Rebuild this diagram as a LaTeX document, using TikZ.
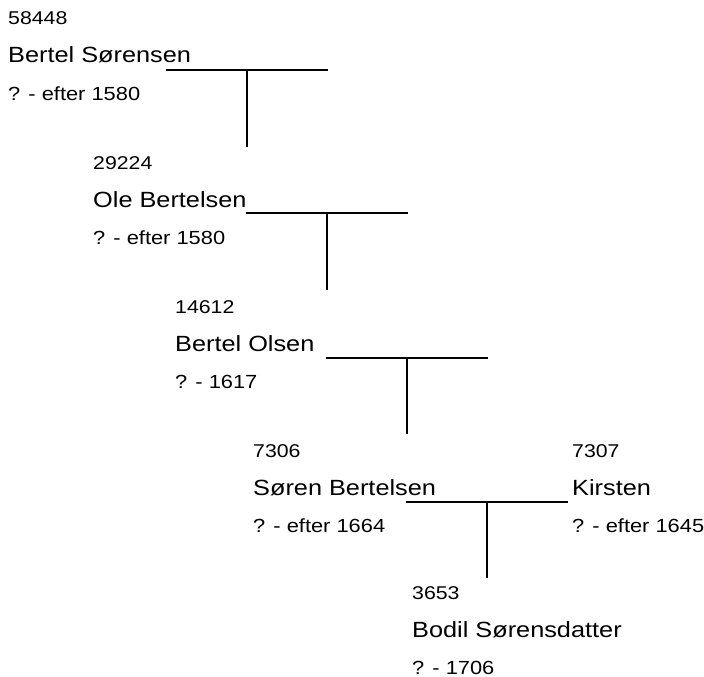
\documentclass[tikz,border=0pt]{standalone}
\usepackage{fontspec}
\setmainfont{Liberation Sans}[FakeStretch=1.15]
\usetikzlibrary{calc}

\begin{document}
\begin{tikzpicture}[
  x=1pt, y=-1pt,
  num/.style={anchor=base west, inner sep=0pt, font=\fontsize{18.5}{22}\selectfont},
  pname/.style={anchor=base west, inner sep=0pt, font=\fontsize{22}{26}\selectfont},
  life/.style={anchor=base west, inner sep=0pt, font=\fontsize{19}{22}\selectfont},
  tline/.style={draw=black, line width=2.4pt},
]
\useasboundingbox (0,0) rectangle (704,677);

% id, x, y of number baseline, number, name, dates
\newcommand{\person}[6]{%
  \node[num] (#1-num) at (#2,#3) {#4};
  \node[pname] (#1-name) at (#2,#3+38) {#5};
  \node[life] (#1-date) at (#2,#3+75) {#6};}

% ---- generations ----
\person{bertel}{8}{25}{58448}{Bertel Sørensen}{? - efter 1580}
\person{ole}{93}{169}{29224}{Ole Bertelsen}{? - efter 1580}
\person{bertelo}{175}{313}{14612}{Bertel Olsen}{? - 1617}
\person{soren}{253}{457}{7306}{Søren Bertelsen}{? - efter 1664}
\person{kirsten}{572}{457}{7307}{Kirsten}{? - efter 1645}
\person{bodil}{412}{599}{3653}{Bodil Sørensdatter}{? - 1706}

% ---- couple lines (left, right, foot of drop) ----
\coordinate (cpa l) at (166,70);  \coordinate (cpa r) at (328,70);  \coordinate (cpa d) at (247,147);
\coordinate (cpb l) at (246,213); \coordinate (cpb r) at (408,213); \coordinate (cpb d) at (327,290);
\coordinate (cpc l) at (326,358); \coordinate (cpc r) at (488,358); \coordinate (cpc d) at (407,434);
\coordinate (cpd l) at (406,502); \coordinate (cpd r) at (568,502); \coordinate (cpd d) at (487,578);

\foreach \cp in {cpa,cpb,cpc,cpd}{
  \draw[tline] (\cp\space l) -- (\cp\space r);
  \draw[tline] ($(\cp\space l)!0.5!(\cp\space r)$) -- (\cp\space d);
}

\end{tikzpicture}
\end{document}
